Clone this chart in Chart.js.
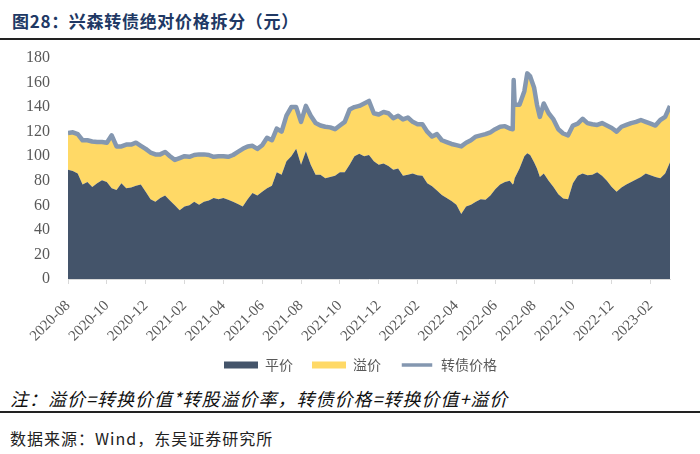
<!DOCTYPE html>
<html lang="zh">
<head>
<meta charset="UTF-8" />
<title>兴森转债绝对价格拆分</title>
<script src="https://cdn.jsdelivr.net/npm/chart.js"></script>
<style>
  body {
    margin: 0;
    width: 700px;
    height: 454px;
    background: #fff;
    position: relative;
    overflow: hidden;
    font-family: "Noto Sans CJK SC", sans-serif;
  }
  .title {
    position: absolute;
    left: 12px;
    top: 8px;
    font-size: 17px;
    font-weight: bold;
    letter-spacing: 0.7px;
    color: #203864;
  }
  .rule {
    position: absolute;
    left: 0;
    width: 700px;
    height: 2px;
    background: #222;
  }
  .note {
    position: absolute;
    left: 10px;
    top: 385px;
    font-size: 18px;
    font-style: italic;
    letter-spacing: 1px;
    color: #111;
  }
  .source {
    position: absolute;
    left: 10px;
    top: 426px;
    font-size: 16px;
    letter-spacing: 1px;
    color: #222;
  }
  .wrap {
    position: absolute;
    left: 0;
    top: 40px;
    width: 700px;
    height: 345px;
  }
</style>
</head>
<body>
  <div class="title">图28：兴森转债绝对价格拆分（元）</div>
  <div class="rule" style="top:38px"></div>
  <div class="wrap"><canvas id="chart"></canvas></div>
  <div class="note">注：溢价=转换价值*转股溢价率，转债价格=转换价值+溢价</div>
  <div class="rule" style="top:411px"></div>
  <div class="source">数据来源：Wind，东吴证券研究所</div>

<script>
  // x = months since 2020-08
  const months = [
    0, 0.25, 0.5, 0.75, 1, 1.25, 1.5, 1.75, 2, 2.25, 2.5, 2.75,
    3, 3.25, 3.5, 3.75, 4, 4.25, 4.5, 4.75, 5, 5.25, 5.5, 5.75,
    6, 6.25, 6.5, 6.75, 7, 7.25, 7.5, 7.75, 8, 8.25, 8.5, 8.75,
    9, 9.25, 9.5, 9.75, 10, 10.25, 10.5, 10.75, 11, 11.25, 11.5, 11.75,
    12, 12.25, 12.5, 12.75, 13, 13.25, 13.5, 13.75, 14, 14.25, 14.5, 14.75,
    15, 15.25, 15.5, 15.75, 16, 16.25, 16.5, 16.75, 17, 17.25, 17.5, 17.75,
    18, 18.25, 18.5, 18.75, 19, 19.25, 19.5, 19.75, 20, 20.25, 20.5, 20.75,
    21, 21.25, 21.5, 21.75, 22, 22.25, 22.5, 22.75, 22.9, 22.95, 23, 23.25,
    23.5, 23.65, 23.8, 24, 24.15, 24.3, 24.5, 24.75, 25, 25.25, 25.5, 25.75,
    26, 26.25, 26.5, 26.75, 27, 27.25, 27.5, 27.75, 28, 28.25, 28.5, 28.75,
    29, 29.25, 29.5, 29.75, 30, 30.25, 30.5, 30.75, 31
  ];

  // 平价
  const parity = [
    89, 88, 86, 77, 79, 75, 78, 80.5, 79, 74, 72.5, 78,
    74, 74.5, 76, 77, 71, 65, 63, 66, 68, 64, 60, 56,
    59, 60, 63, 60.5, 63, 64, 66, 65, 66, 64.5, 63, 61,
    59, 65, 70, 68, 71, 74, 76, 87, 85, 96, 100, 106,
    93, 104, 93, 85, 85, 82, 83, 84, 87, 87, 93, 100,
    102, 100, 101, 96, 93, 94, 92, 89, 90, 84, 85, 86,
    84.5, 84, 78, 75.5, 72, 68.5, 66, 63.5, 60.5, 53, 59, 60.5,
    63, 65, 64.5, 68, 73, 77, 79, 80, 77, 78, 82, 90,
    100, 102.5, 101, 95, 90, 83, 86, 80, 75, 69, 65.5, 65,
    78, 84, 86, 84.5, 85, 87, 84, 80, 75, 71, 74.5, 77,
    79, 81, 83, 86, 84.5, 83, 82, 86, 95
  ];

  // 转债价格
  const price = [
    119, 119.5, 118, 113, 113, 112, 111.5, 111.5, 111, 117, 108, 108,
    109.5, 109.5, 111, 108.5, 106, 103, 101.5, 101.5, 103.5, 100, 97, 98.5,
    100, 99.5, 101, 101.5, 101.5, 101, 99.5, 100, 100, 99.5, 101, 103.5,
    106, 108, 108.5, 106, 109, 115, 113, 122.5, 120, 133, 140, 140,
    128, 141, 133, 127, 125, 124, 123.5, 122, 125, 128, 138, 140,
    141, 143, 145, 135, 134, 136, 135, 131, 133, 130, 131.5, 128,
    126, 126, 120, 116, 118, 113, 111.5, 110, 109, 108, 111, 113,
    116, 117, 118, 119.5, 122, 124, 124.5, 122.5, 122, 162, 142, 142,
    153, 167.5, 165, 156, 142, 132, 143, 135, 130, 122, 118.5, 117,
    125, 126.5, 130.5, 127, 126, 125.5, 127, 125, 123, 120, 124, 125.5,
    127, 128, 129.5, 128, 126.5, 125, 129.5, 132, 141
  ];

  const tickLabels = [
    '2020-08', '2020-10', '2020-12', '2021-02', '2021-04', '2021-06', '2021-08', '2021-10',
    '2021-12', '2022-02', '2022-04', '2022-06', '2022-08', '2022-10', '2022-12', '2023-02'
  ];

  const navy = '#44546A';
  const gold = '#FFD966';
  const slate = '#8497B0';
  const serif = '"Liberation Serif", "Times New Roman", serif';

  const pts = arr => months.map((m, i) => ({ x: m, y: arr[i] }));

  // legend sits a bit right of centre (and snug under the labels) in the original
  const legendShift = {
    id: 'legendShift',
    afterLayout(chart) {
      chart.legend.left += 31;
      chart.legend.top -= 3;
      chart.legend.bottom -= 3;
    }
  };

  new Chart(document.getElementById('chart'), {
    type: 'line',
    data: {
      datasets: [
        {
          label: '平价',
          data: pts(parity),
          backgroundColor: navy,
          borderColor: navy,
          borderWidth: 0,
          pointRadius: 0,
          fill: 'origin'
        },
        {
          label: '溢价',
          data: pts(price),
          backgroundColor: gold,
          borderColor: gold,
          borderWidth: 0,
          pointRadius: 0,
          fill: '-1'
        },
        {
          label: '转债价格',
          data: pts(price),
          borderColor: slate,
          backgroundColor: slate,
          borderWidth: 4.5,
          borderJoinStyle: 'round',
          pointRadius: 0,
          fill: false
        }
      ]
    },
    plugins: [legendShift],
    options: {
      responsive: true,
      maintainAspectRatio: false,
      animation: false,
      layout: { padding: { left: 20, right: 30, top: 18, bottom: 0 } },
      plugins: {
        filler: { drawTime: 'beforeDatasetsDraw' },
        tooltip: { enabled: false },
        legend: {
          position: 'bottom',
          labels: {
            boxWidth: 34,
            boxHeight: 7,
            padding: 19,
            color: '#595959',
            font: { family: '"Noto Sans CJK SC"', size: 14 },
            generateLabels: chart => chart.data.datasets.map((ds, i) => {
              const isLine = i === 2;
              return {
                text: ds.label,
                fillStyle: ds.backgroundColor,
                strokeStyle: isLine ? '#ffffff' : ds.backgroundColor,
                lineWidth: isLine ? 3.5 : 0,
                fontColor: '#595959',
                datasetIndex: i,
                hidden: false
              };
            })
          }
        }
      },
      scales: {
        x: {
          type: 'linear',
          min: 0,
          max: 31,
          afterFit: s => { s.height = 63; },
          afterBuildTicks: s => { s.ticks = tickLabels.map((_, i) => ({ value: i * 2 })); },
          grid: { drawOnChartArea: false, color: '#D9D9D9', tickLength: 5 },
          border: { color: '#D9D9D9' },
          ticks: {
            minRotation: 45,
            maxRotation: 45,
            autoSkip: false,
            padding: 13,
            color: '#595959',
            font: { family: serif, size: 15 },
            callback: v => tickLabels[v / 2]
          }
        },
        y: {
          min: 0,
          max: 180,
          afterFit: s => { s.width = 48; s.paddingTop = 0; s.paddingBottom = 0; },
          grid: { display: false, drawTicks: false },
          border: { display: false },
          ticks: {
            stepSize: 20,
            padding: 18,
            color: '#595959',
            font: { family: serif, size: 16 }
          }
        }
      }
    }
  });
</script>
</body>
</html>
